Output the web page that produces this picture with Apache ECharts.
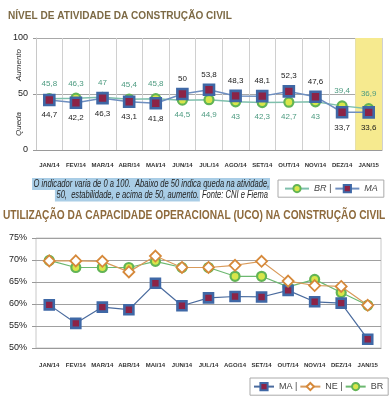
<!DOCTYPE html>
<html><head><meta charset="utf-8">
<script src="https://cdn.jsdelivr.net/npm/echarts@6/dist/echarts.min.js"></script>
<style>html,body{margin:0;padding:0;background:#fff}#c{width:392px;height:400px}</style>
</head><body><div id="c"></div>
<script>
const months = ['JAN/14','FEV/14','MAR/14','ABR/14','MAI/14','JUN/14','JUL/14','AGO/14','SET/14','OUT/14','NOV/14','DEZ/14','JAN/15'];
// Nível de atividade
const nivelBR = [45.8,46.3,47,45.4,45.8,44.5,44.9,43,42.3,42.7,43,39.4,36.9];
const nivelMA = [44.7,42.2,46.3,43.1,41.8,50,53.8,48.3,48.1,52.3,47.6,33.7,33.6];
const nivelBRLabelPos = ['top','top','top','top','top','bottom','bottom','bottom','bottom','bottom','bottom','top','top'];
const nivelMALabelPos = ['bottom','bottom','bottom','bottom','bottom','top','top','top','top','top','top','bottom','bottom'];
const highlight = [null,null,null,null,null,null,null,null,null,null,null,null,100];
const nivelTicks = [0,50,100];
// UCO (%)
const ucoMA = [59.8,55.6,59.3,58.7,64.7,59.6,61.4,61.7,61.6,63.1,60.5,60.2,52];
const ucoNE = [69.8,69.8,69.7,67.3,70.9,68.3,68.3,68.8,69.7,65.2,64.2,64,59.7];
const ucoBR = [69.9,68.3,68.3,68.3,69.7,68.3,68.3,66.3,66.3,63.9,65.6,62.6,59.7];
const ucoTicks = [50,55,60,65,70,75];

const F = 'Liberation Sans, Arial, sans-serif';
const comma = v => String(v).replace('.', ',');
const brStyle = {color:'#d8e64a', borderColor:'#62b455', borderWidth:2.2};
const maStyle = {color:'#8c2346', borderColor:'#3f68a6', borderWidth:2.6};
const neStyle = {color:'#ffffff', borderColor:'#d6893a', borderWidth:1.8};

const chart = echarts.init(document.getElementById('c'));
chart.setOption({
  animation:false,
  textStyle:{fontFamily:F},
  legend:[
    {data:['BR','MA'], left:278, top:180, width:200, itemWidth:24, itemHeight:9, itemGap:3,
     padding:[4,6,4,6], borderColor:'#aaa', borderWidth:1,
     formatter:n => n==='BR' ? 'BR |' : n,
     textStyle:{fontSize:9, fontStyle:'italic', color:'#444'}},
    {data:['MA ','NE','BR '], left:250, top:378, width:200, itemWidth:20, itemHeight:9, itemGap:2,
     padding:[4,5,4,3], borderColor:'#aaa', borderWidth:1,
     formatter:n => n.trim()==='BR' ? 'BR' : n.trim()+' |',
     textStyle:{fontSize:9, color:'#444'}}
  ],
  grid:[
    {left:36, right:10, top:38, bottom:250},
    {left:36, right:11, top:238, bottom:52, show:true, borderColor:'#c8c8c8', borderWidth:1}
  ],
  xAxis:[
    {gridIndex:0, type:'category', data:months, boundaryGap:true,
     axisLine:{lineStyle:{color:'#9a9a9a'}}, axisTick:{length:5, lineStyle:{color:'#bbb'}},
     splitLine:{show:true, lineStyle:{color:'#d0d0d0'}},
     axisLabel:{fontSize:6, fontWeight:'bold', color:'#333', margin:12, interval:0}},
    {gridIndex:1, type:'category', data:months, boundaryGap:true,
     axisLine:{lineStyle:{color:'#9a9a9a'}}, axisTick:{length:4, lineStyle:{color:'#9a9a9a'}},
     axisLabel:{fontSize:6, fontWeight:'bold', color:'#333', margin:14, interval:0}}
  ],
  yAxis:[
    {gridIndex:0, type:'value', min:nivelTicks[0], max:nivelTicks[2], interval:50,
     axisLine:{show:true, lineStyle:{color:'#c8c8c8'}}, axisTick:{show:true, length:3, lineStyle:{color:'#999'}},
     splitLine:{lineStyle:{color:'#a8a8a8'}},
     axisLabel:{fontSize:9, color:'#222', margin:8}},
    {gridIndex:1, type:'value', min:ucoTicks[0], max:ucoTicks[5], interval:5,
     axisLine:{show:false}, axisTick:{show:true, length:4, lineStyle:{color:'#999'}},
     splitLine:{lineStyle:{color:'#a0a0a0'}},
     axisLabel:{fontSize:9, color:'#222', margin:9, formatter:'{value}%'}}
  ],
  series:[
    {type:'bar', xAxisIndex:0, yAxisIndex:0, data:highlight, barWidth:'100%',
     itemStyle:{color:'#f6ea8f'}, silent:true, z:0, legendHoverLink:false},
    {name:'BR', type:'line', xAxisIndex:0, yAxisIndex:0,
     data:nivelBR.map((v,i)=>({value:v, label:{position:nivelBRLabelPos[i]}})),
     symbol:'circle', symbolSize:9,
     lineStyle:{color:'#7fc0ad', width:1.5}, itemStyle:brStyle, z:3,
     label:{show:true, fontSize:8, color:'#4d9b80', distance:5, formatter:p => comma(p.value)}},
    {name:'MA', type:'line', xAxisIndex:0, yAxisIndex:0,
     data:nivelMA.map((v,i)=>({value:v, label:{position:nivelMALabelPos[i]}})),
     symbol:'rect', symbolSize:10,
     lineStyle:{color:'#6f8fc0', width:1.5}, itemStyle:maStyle, z:4,
     label:{show:true, fontSize:8, color:'#1a1a1a', distance:5, formatter:p => comma(p.value)}},
    {name:'MA ', type:'line', xAxisIndex:1, yAxisIndex:1, data:ucoMA, symbol:'rect', symbolSize:9,
     lineStyle:{color:'#4a6b9e', width:1.2}, itemStyle:maStyle, z:4},
    {name:'NE', type:'line', xAxisIndex:1, yAxisIndex:1, data:ucoNE, symbol:'diamond', symbolSize:11,
     lineStyle:{color:'#d99a5a', width:1.2}, itemStyle:neStyle, z:5},
    {name:'BR ', type:'line', xAxisIndex:1, yAxisIndex:1, data:ucoBR, symbol:'circle', symbolSize:9,
     lineStyle:{color:'#6cb870', width:1.2}, itemStyle:brStyle, z:3}
  ],
  graphic:[
    {type:'text', x:8, y:16, scaleX:0.96,
     style:{text:'NÍVEL DE ATIVIDADE DA CONSTRUÇÃO CIVIL', font:'bold 10.5px '+F, fill:'#7d6a45', verticalAlign:'middle'}},
    {type:'text', x:3, y:216, scaleX:0.85,
     style:{text:'UTILIZAÇÃO DA CAPACIDADE OPERACIONAL (UCO) NA CONSTRUÇÃO CIVIL', font:'bold 12px '+F, fill:'#8e6a3c', verticalAlign:'middle'}},
    {type:'text', x:19, y:65, rotation:Math.PI/2,
     style:{text:'Aumento', font:'italic 8px '+F, fill:'#333', align:'center', verticalAlign:'middle'}},
    {type:'text', x:19, y:124, rotation:Math.PI/2,
     style:{text:'Queda', font:'italic 8px '+F, fill:'#333', align:'center', verticalAlign:'middle'}},
    {type:'text', x:270, y:184, scaleX:0.757,
     style:{text:'O indicador varia de 0 a 100.  Abaixo de 50 indica queda na atividade,',
       font:'italic 10px '+F, fill:'#222', align:'right', verticalAlign:'middle',
       backgroundColor:'#a9cde6', padding:[1,1,1,2]}},
    {type:'text', x:268, y:195.5, scaleX:0.757,
     style:{text:'{h|50,  estabilidade, e acima de 50, aumento.}{n| Fonte: CNI e Fiema}',
       font:'italic 10px '+F, fill:'#222', align:'right', verticalAlign:'middle',
       rich:{h:{backgroundColor:'#a9cde6', font:'italic 10px '+F, fill:'#222', padding:[1,1,1,2]},
             n:{font:'italic 10px '+F, fill:'#222'}}}}
  ]
});
</script></body></html>
